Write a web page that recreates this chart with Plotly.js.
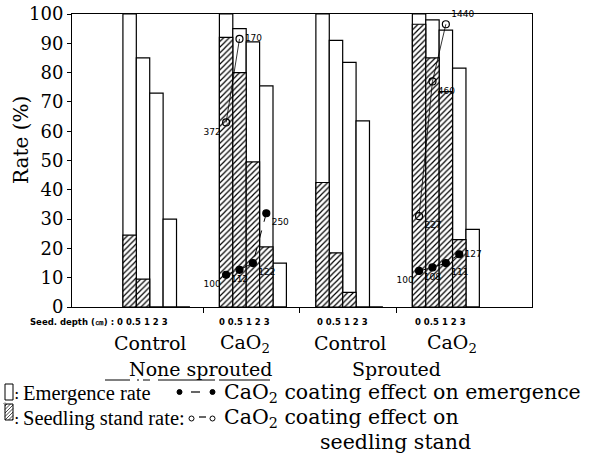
<!DOCTYPE html>
<html>
<head>
<meta charset="utf-8">
<script src="https://cdn.plot.ly/plotly-3.0.1.min.js"></script>
<style>html,body{margin:0;padding:0;background:#fff;}#chart{width:595px;height:458px;}</style>
</head>
<body>
<div id="chart"></div>
<script>
// ---- data ----
const sproutGroups = ["None sprouted", "Sprouted"];
const treatments = ["Control", "CaO<sub>2</sub>", "Control", "CaO<sub>2</sub>"];
const depths = ["0", "0.5", "1", "2", "3"];

const emergenceNSControl = [100, 85, 73, 30, 0];
const standNSControl     = [24.5, 9.5, 0, 0, 0];
const emergenceNSCaO2    = [100, 95, 90.5, 75.5, 15];
const standNSCaO2        = [92, 80, 49.5, 20.5, 0];
const emergenceSControl  = [100, 91, 83.5, 63.5, 0];
const standSControl      = [42.5, 18.5, 5, 0, 0];
const emergenceSCaO2     = [100, 98, 94.5, 81.5, 26.5];
const standSCaO2         = [96.5, 85, 73.5, 23, 0];

// CaO2 coating effect markers (plotted heights) and their printed values
const emEffectNS       = [11, 12.7, 15, 32];
const emEffectNSLabels = ["100", "112", "122", "250"];
const stEffectNS       = [63, 91.5];
const stEffectNSLabels = ["372", "170"];
const emEffectS        = [12.3, 13.5, 15, 18];
const emEffectSLabels  = ["100", "108", "111", "127"];
const stEffectS        = [31, 77, 96.5];
const stEffectSLabels  = ["227", "460", "1440"];

// ---- layout helpers ----
const L = 72, R = 532, T = 14, B = 307;
const px = x => (x - L) / (R - L);
const py = y => (B - y) / (B - T);
const pos = (g, d) => 4.3 + 7.2 * g + d;

const emGroups = [emergenceNSControl, emergenceNSCaO2, emergenceSControl, emergenceSCaO2];
const stGroups = [standNSControl, standNSCaO2, standSControl, standSCaO2];
const bx = [], emY = [], stY = [];
emGroups.forEach((arr, g) => arr.forEach((v, d) => { bx.push(pos(g, d)); emY.push(v); stY.push(stGroups[g][d]); }));

const traces = [
  {type: 'bar', x: bx, y: emY, width: 1, marker: {color: '#fff', line: {color: '#000', width: 1.2}}, hoverinfo: 'none'},
  {type: 'bar', x: bx, y: stY, width: 1,
   marker: {color: '#fff', line: {color: '#000', width: 1.2},
            pattern: {shape: '/', fgcolor: '#000', bgcolor: '#fff', size: 4, solidity: 0.3}}, hoverinfo: 'none'},
];
function effTrace(g, ys, labels, filled, tpos) {
  return {type: 'scatter', mode: 'lines+markers+text', x: ys.map((_, d) => pos(g, d)), y: ys,
    text: labels, textposition: tpos, textfont: {family: 'DejaVu Sans', size: 9, color: '#000'},
    line: {color: '#000', width: filled ? 1 : 0.8, dash: filled ? 'dash' : 'solid'},
    marker: {symbol: filled ? 'circle' : 'circle-open', size: 7, color: '#000', line: {color: '#000', width: 1.2}},
    cliponaxis: false, hoverinfo: 'none'};
}
traces.push(effTrace(1, emEffectNS, emEffectNSLabels, true, ['bottom left', 'bottom center', 'bottom right', 'bottom right']));
traces.push(effTrace(1, stEffectNS, stEffectNSLabels, false, ['bottom left', 'middle right']));
traces.push(effTrace(3, emEffectS, emEffectSLabels, true, ['bottom left', 'bottom center', 'bottom right', 'middle right']));
traces.push(effTrace(3, stEffectS, stEffectSLabels, false, ['bottom right', 'bottom right', 'top right']));

const serif = 'DejaVu Serif';
const times = 'Liberation Serif';
const ann = [];
const A = (text, x, y, size, opts) => ann.push(Object.assign({text, xref: 'paper', yref: 'paper', x: px(x), y: py(y),
  showarrow: false, font: {family: serif, size, color: '#000'}, xanchor: 'center', yanchor: 'middle'}, opts || {}));
const smallBold = {family: 'DejaVu Sans', size: 8.5, color: '#000', weight: 'bold'};

A('Rate (%)', 21, 140, 20, {textangle: -90});
const depthStr = depths.join(' ');
A('Seed. depth (㎝) : ' + depthStr, 170, 322, 8.5, {xanchor: 'right', font: smallBold});
[244, 342, 440].forEach(x => A(depthStr, x, 322, 8.5, {font: smallBold}));
[150, 245, 350, 452].forEach((x, i) => A(treatments[i], x, 343, 19));
A(sproutGroups[0], 200, 369, 19);
A(sproutGroups[1], 396, 369, 19);
A(':', 16, 393, 16);
A(':', 16, 418, 16);
A('Emergence rate', 21, 393, 20.5, {xanchor: 'left', font: {family: times, size: 20.5, color: '#000'}});
A('CaO<sub>2</sub> coating effect on emergence', 222, 393, 20.5, {xanchor: 'left'});
A('Seedling stand rate:', 21, 418, 20.5, {xanchor: 'left', font: {family: times, size: 20.5, color: '#000'}});
A('CaO<sub>2</sub> coating effect on', 222, 418, 20.5, {xanchor: 'left'});
A('seedling stand', 395, 442, 20.5);

const shapes = [];
const S = (x0, y0, x1, y1, extra) => shapes.push(Object.assign({xref: 'paper', yref: 'paper', x0: px(x0), y0: py(y0), x1: px(x1), y1: py(y1),
  line: {color: '#000', width: 1}}, extra));
S(5, 384, 13, 400, {type: 'rect', fillcolor: '#fff'});
S(5, 404, 13, 420, {type: 'rect', fillcolor: '#fff'});
for (let k = 0; k < 6; k++) {
  const yb = 420 - k * 3.5;
  const dx = Math.min(8, yb - 404);
  S(5, yb, 5 + dx, yb - dx, {type: 'line', line: {color: '#000', width: 0.7}});
}
for (let k = 1; k < 3; k++) {
  const xs = 5 + k * 3.5;
  S(xs, 420, 13, 420 - (13 - xs), {type: 'line', line: {color: '#000', width: 0.7}});
}
// legend line markers
S(177, 389.5, 182, 394.5, {type: 'circle', fillcolor: '#000'});
S(191, 392, 200, 392, {type: 'line', line: {color: '#000', width: 1.2}});
S(210, 389.5, 215, 394.5, {type: 'circle', fillcolor: '#000'});
S(189, 416, 194, 421, {type: 'circle', fillcolor: '#fff', line: {color: '#000', width: 1}});
S(199, 417, 206, 417, {type: 'line', line: {color: '#000', width: 1.2}});
S(210, 416, 215, 421, {type: 'circle', fillcolor: '#fff', line: {color: '#000', width: 1}});
// "None sprouted" broken underline
[[105, 130], [137, 139], [143, 150], [158, 215], [219, 270]].forEach(s => S(s[0], 380, s[1], 380, {type: 'line'}));

const layout = {
  width: 595, height: 458, margin: {l: L, r: 595 - R, t: T, b: 458 - B},
  paper_bgcolor: '#fff', plot_bgcolor: '#fff', showlegend: false, barmode: 'overlay',
  xaxis: {range: [0, (R - L) / 13.4], showgrid: false, zeroline: false, showline: true, mirror: true, linecolor: '#000', linewidth: 1,
          tickvals: [1, 2, 3].map(g => pos(g, 0) - 1.7), ticks: 'outside', ticklen: 5, tickcolor: '#000', showticklabels: false},
  yaxis: {range: [0, 100], tickvals: [0, 10, 20, 30, 40, 50, 60, 70, 80, 90, 100], ticks: 'outside', ticklen: 4, tickcolor: '#000',
          showgrid: false, zeroline: false, showline: true, mirror: true, linecolor: '#000', linewidth: 1,
          tickfont: {family: serif, size: 18, color: '#000'}},
  annotations: ann, shapes: shapes
};
Plotly.newPlot('chart', traces, layout, {staticPlot: true});
</script>
</body>
</html>
